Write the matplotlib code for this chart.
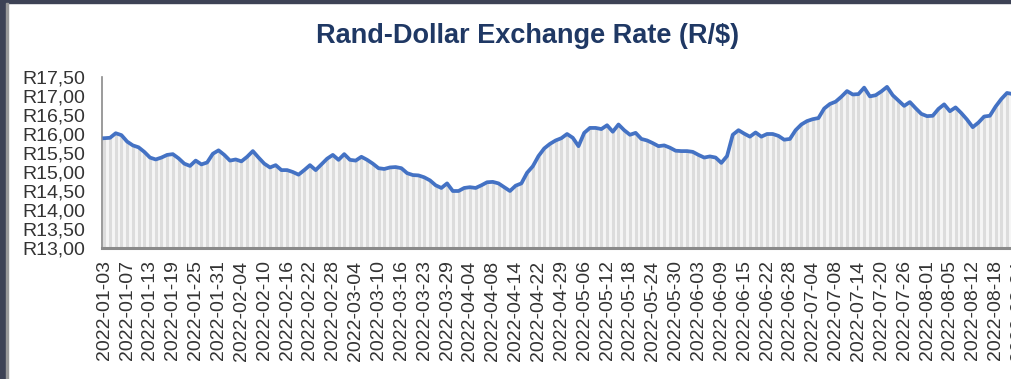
import matplotlib.pyplot as plt
from matplotlib.patches import Rectangle
import numpy as np
import pandas as pd

# South African public holidays that drop out of the trading-day axis
sa_holidays = ['2022-03-21', '2022-04-15', '2022-04-18', '2022-04-27',
               '2022-05-02', '2022-06-16', '2022-08-09']

# Rand per dollar, one value per trading day from 2022-01-03
rate = [15.89, 15.90, 16.02, 15.97, 15.80, 15.70, 15.65, 15.53, 15.38, 15.33,
        15.38, 15.45, 15.47, 15.36, 15.22, 15.16, 15.30, 15.20, 15.25, 15.48,
        15.57, 15.45, 15.30, 15.33, 15.28, 15.40, 15.55, 15.38, 15.22, 15.12,
        15.18, 15.05, 15.05, 15.00, 14.93, 15.05, 15.18, 15.05, 15.20, 15.35,
        15.45, 15.32, 15.47, 15.32, 15.30, 15.40, 15.32, 15.22, 15.10, 15.08,
        15.12, 15.13, 15.10, 14.97, 14.92, 14.91, 14.86, 14.78, 14.65, 14.58,
        14.70, 14.50, 14.50, 14.58, 14.60, 14.58, 14.65, 14.73, 14.74, 14.70,
        14.60, 14.50, 14.64, 14.70, 14.98, 15.15, 15.42, 15.62, 15.74, 15.83,
        15.89, 16.00, 15.90, 15.68, 16.03, 16.16, 16.16, 16.13, 16.23, 16.06,
        16.25, 16.10, 15.98, 16.03, 15.87, 15.83, 15.76, 15.68, 15.70, 15.64,
        15.56, 15.55, 15.55, 15.53, 15.45, 15.38, 15.41, 15.38, 15.24, 15.42,
        15.98, 16.10, 16.01, 15.93, 16.04, 15.93, 16.00, 16.00, 15.95, 15.85,
        15.87, 16.10, 16.25, 16.34, 16.39, 16.42, 16.67, 16.79, 16.85, 16.98,
        17.13, 17.04, 17.05, 17.22, 16.99, 17.02, 17.12, 17.24, 17.02, 16.88,
        16.74, 16.84, 16.68, 16.53, 16.47, 16.48, 16.66, 16.78, 16.60, 16.70,
        16.55, 16.38, 16.18, 16.30, 16.46, 16.48, 16.72, 16.92, 17.08, 17.05,
        17.00, 16.95]

dates = pd.bdate_range('2022-01-03', periods=len(rate), freq='C', holidays=sa_holidays)
date_labels = [d.strftime('%Y-%m-%d') for d in dates]

y_ticks = [13.0, 13.5, 14.0, 14.5, 15.0, 15.5, 16.0, 16.5, 17.0, 17.5]
y_labels = ['R' + f'{v:.2f}'.replace('.', ',') for v in y_ticks]

plt.rcParams['font.family'] = ['Liberation Sans', 'DejaVu Sans']

fig = plt.figure(figsize=(10.11, 3.79), dpi=100)

# dark frame of the screenshot (left and top)
fig.patches.append(Rectangle((0, 0), 6 / 1011, 1, transform=fig.transFigure,
                             color='#3d4255', zorder=0))
fig.patches.append(Rectangle((0, 1 - 3 / 379), 1, 3 / 379, transform=fig.transFigure,
                             color='#3d4255', zorder=0))
fig.patches.append(Rectangle((6 / 1011, 0), 1.5 / 1011, 1 - 3 / 379, transform=fig.transFigure,
                             color='#9a9a9a', zorder=0))

# axes runs off the right edge like the cropped original
ax = fig.add_axes([102 / 1011, 1 - 248 / 379, 945 / 1011, 171 / 379])

x = np.arange(len(rate))
ax.fill_between(x, 13, rate, color='#f5f5f5', zorder=1, linewidth=0)
ax.vlines(x, 13, rate, color='#dcdcdc', linewidth=2.2, zorder=2)
ax.plot(x, rate, color='#4472c4', linewidth=2.7, zorder=3)

ax.set_xlim(-0.4, 165)
ax.set_ylim(13, 17.5)

ax.set_yticks(y_ticks)
ax.set_yticklabels(y_labels)
ax.set_xticks(x[::4])
ax.set_xticklabels(date_labels[::4], rotation=90)

ax.tick_params(axis='both', length=0, labelsize=14, labelcolor='#333333')
ax.tick_params(axis='y', pad=12)
ax.tick_params(axis='x', pad=9)

for s in ['top', 'right']:
    ax.spines[s].set_visible(False)
ax.spines['left'].set_color('#8a8a8a')
ax.spines['left'].set_linewidth(1.2)
ax.spines['bottom'].set_color('#8a8a8a')
ax.spines['bottom'].set_linewidth(2.2)

fig.text(0.522, 0.905, 'Rand-Dollar Exchange Rate (R/$)', ha='center', va='center',
         fontsize=19.5, fontweight='bold', color='#1f3864')

fig.savefig('out.png', dpi=100)
